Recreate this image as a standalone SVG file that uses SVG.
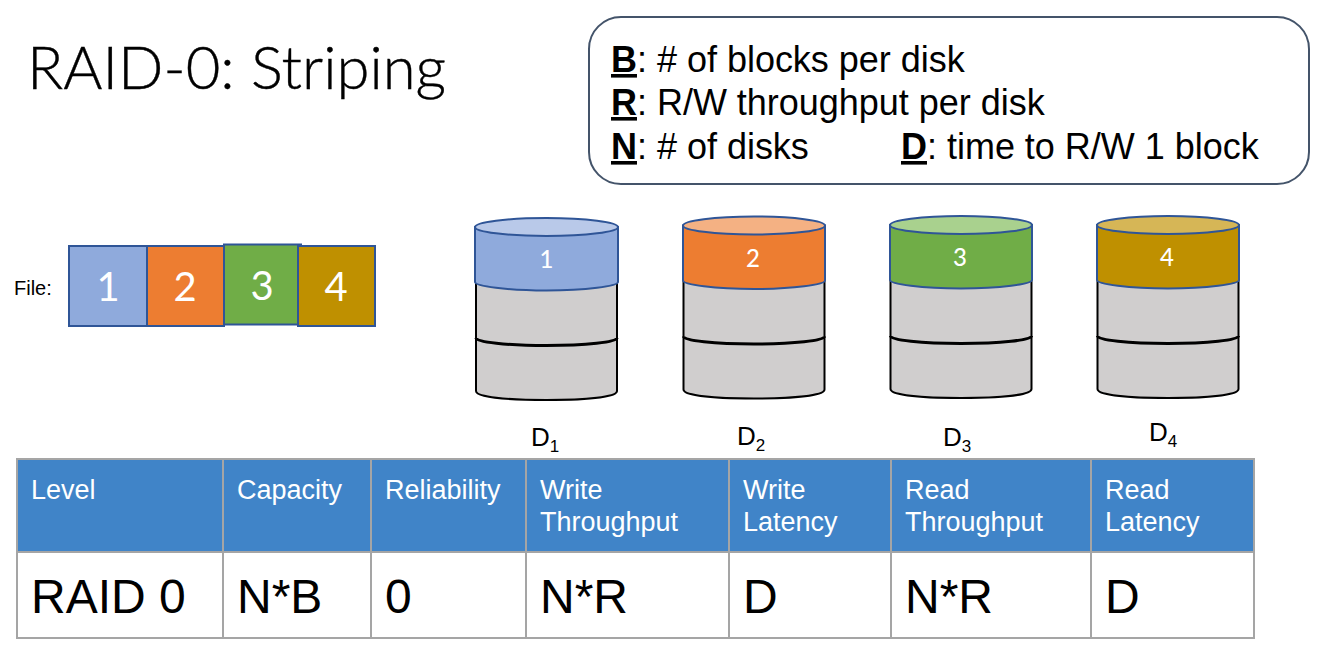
<svg xmlns="http://www.w3.org/2000/svg" width="1323" height="662" viewBox="0 0 1323 662">
<style>
text{font-family:"Liberation Sans",Arial,sans-serif;fill:#000}
.title{font-family:Lato,"Open Sans",sans-serif;font-size:59.800px;font-weight:300;stroke:#000;stroke-width:.4px}
.num{font-family:Lato,"Open Sans",sans-serif;fill:#fff;text-anchor:middle}
.big{font-size:40px}.small{font-size:24px;font-weight:500}
.leg{font-size:36px;letter-spacing:-.02px}
.leg .u{font-weight:bold;text-decoration:underline}
.th{font-size:27px;fill:#fff}
.td{font-size:48px}
.dl{font-size:26px}
.sub{font-size:17px}
.box{stroke:#2f5597;stroke-width:2}
.body{fill:#d0cece;stroke:#000;stroke-width:2}
.edge{fill:none;stroke:#000;stroke-width:3}
.top{stroke:#2f5597;stroke-width:2}
.grid{stroke:#a5a5a5;stroke-width:2;fill:none}
</style>
<text class="title" x="27" y="89">RAID-0: Striping</text>
<g id="legend">
<rect x="589" y="17" width="720" height="167" rx="32" fill="#fff" stroke="#44546a" stroke-width="2"/>
<text class="leg" x="611" y="72"><tspan class="u">B</tspan>: # of blocks per disk</text>
<text class="leg" x="611" y="115"><tspan class="u">R</tspan>: R/W throughput per disk</text>
<text class="leg" x="611" y="159"><tspan class="u">N</tspan>: # of disks</text>
<text class="leg" x="901" y="159"><tspan class="u">D</tspan>: time to R/W 1 block</text>
</g>
<text x="14" y="295" font-size="20">File:</text>
<g id="file-1"><rect class="box" x="69" y="246" width="78" height="80" fill="#8faadc"/><text class="num big" x="108" y="301">1</text></g>
<g id="file-2"><rect class="box" x="147" y="246" width="77" height="80" fill="#ed7d31"/><text class="num big" x="185" y="301">2</text></g>
<g id="file-3"><rect class="box" x="224" y="244.500" width="77" height="80" fill="#70ad47"/><text class="num big" x="262" y="300">3</text></g>
<g id="file-4"><rect class="box" x="298" y="246" width="77" height="80" fill="#bf9000"/><text class="num big" x="336" y="301">4</text></g>
<defs>
<g id="lower">
<path class="body" d="M1 56V164C1 170 32 173 71.500 173S142 170 142 164V56Z"/>
<path class="edge" d="M1 111C1 115 32 118.500 71.500 118.500S142 115 142 111"/>
</g>
</defs>
<g id="disk-1" transform="translate(475 227)">
<use href="#lower"/>
<path class="top" fill="#8faadc" d="M0 0V55C0 59 32 63.500 71.500 63.500S143 59 143 55V0Z"/>
<ellipse class="top" fill="#b9c9e9" cx="71.500" cy="0" rx="71.500" ry="9"/>
<text class="num small" x="71.500" y="41">1</text></g>
<g id="disk-2" transform="translate(683 225.500)">
<use href="#lower" transform="translate(-.5 0)"/>
<path class="top" fill="#ed7d31" d="M0 0V55C0 59 32 63.500 71 63.500S142 59 142 55V0Z"/>
<ellipse class="top" fill="#f4b183" cx="71" cy="0" rx="71" ry="9"/>
<text class="num small" x="70" y="41">2</text></g>
<g id="disk-3" transform="translate(890 225)">
<use href="#lower" transform="translate(-.5 0)"/>
<path class="top" fill="#70ad47" stroke="#4472c4" d="M0 0V55C0 59 32 63.500 71 63.500S142 59 142 55V0Z"/>
<ellipse class="top" fill="#a9d18e" stroke="#4472c4" cx="71" cy="0" rx="71" ry="9"/>
<text class="num small" x="70" y="41">3</text></g>
<g id="disk-4" transform="translate(1097 225)">
<use href="#lower" transform="translate(-.5 0)"/>
<path class="top" fill="#bf9000" d="M0 0V55C0 59 32 63.500 71 63.500S142 59 142 55V0Z"/>
<ellipse class="top" fill="#d6b656" cx="71" cy="0" rx="71" ry="9"/>
<text class="num small" x="70" y="41">4</text></g>
<text class="dl" x="531" y="446">D<tspan class="sub" dy="6">1</tspan></text>
<text class="dl" x="737" y="445">D<tspan class="sub" dy="6">2</tspan></text>
<text class="dl" x="943" y="446">D<tspan class="sub" dy="6">3</tspan></text>
<text class="dl" x="1149" y="441">D<tspan class="sub" dy="6">4</tspan></text>
<g id="table">
<rect x="17" y="459" width="1237" height="93" fill="#4084c8"/>
<rect x="17" y="552" width="1237" height="86" fill="#fff"/>
<path class="grid" d="M17 459H1254V638H17ZM17 552H1254M223 459V638M371 459V638M526 459V638M729 459V638M891 459V638M1091 459V638"/>
<text class="th" x="31" y="499">Level</text>
<text class="th" x="237" y="499">Capacity</text>
<text class="th" x="385" y="499">Reliability</text>
<text class="th" x="540" y="499">Write</text><text class="th" x="540" y="531">Throughput</text>
<text class="th" x="743" y="499">Write</text><text class="th" x="743" y="531">Latency</text>
<text class="th" x="905" y="499">Read</text><text class="th" x="905" y="531">Throughput</text>
<text class="th" x="1105" y="499">Read</text><text class="th" x="1105" y="531">Latency</text>
<text class="td" x="31" y="613">RAID 0</text>
<text class="td" x="237" y="613">N*B</text>
<text class="td" x="385" y="613">0</text>
<text class="td" x="540" y="613">N*R</text>
<text class="td" x="743" y="613">D</text>
<text class="td" x="905" y="613">N*R</text>
<text class="td" x="1105" y="613">D</text>
</g>
</svg>
